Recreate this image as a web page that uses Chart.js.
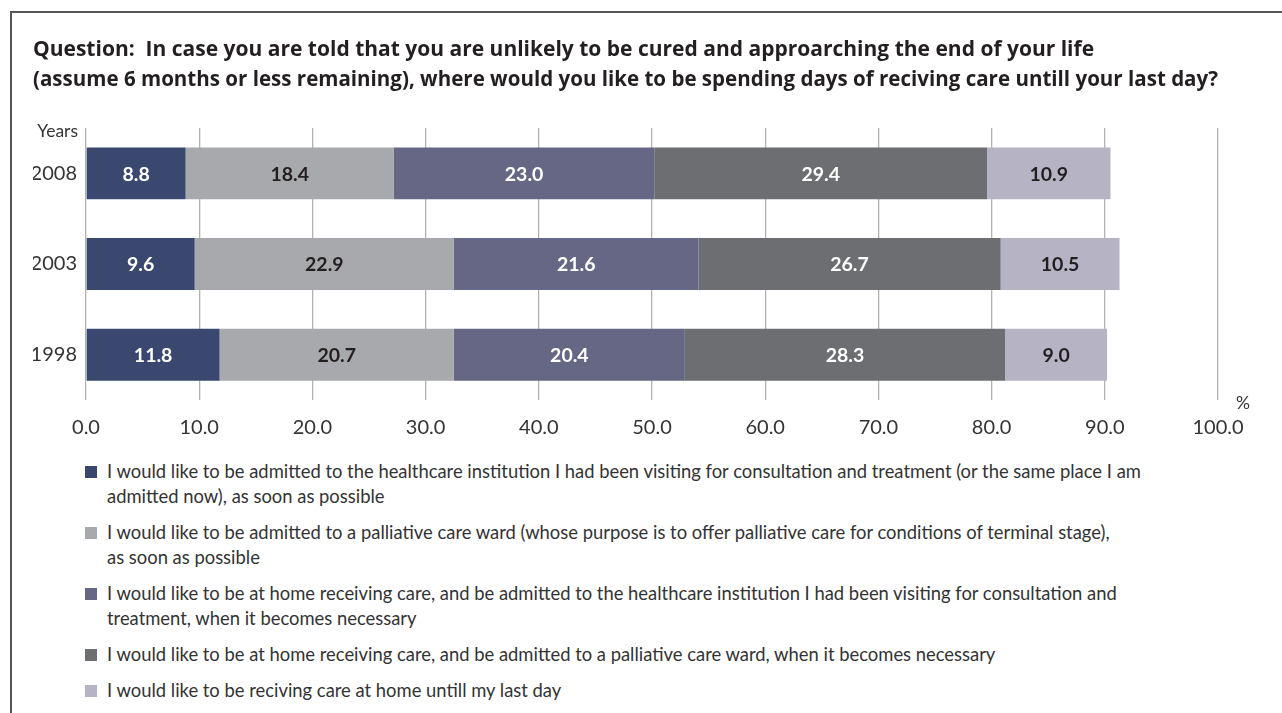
<!DOCTYPE html>
<html>
<head>
<meta charset="utf-8">
<title>Preferred place of care at the end of life</title>
<script src="https://cdn.jsdelivr.net/npm/chart.js@4/dist/chart.umd.min.js"></script>
<style>
  html, body { margin: 0; padding: 0; background: #fff; }
  #wrap { position: relative; width: 1282px; height: 713px; overflow: hidden; font-family: Lato, "Open Sans", sans-serif; }
  #frame { position: absolute; left: 10px; top: 11px; right: -10px; bottom: -10px;
           border-left: 2px solid #555; border-top: 2px solid #555; }
  #chart { position: absolute; left: 0; top: 0; }
  #legend { position: absolute; left: 85px; top: 459px; margin: 0; padding: 0; list-style: none;
            font-size: 18.4px; line-height: 25px; color: #333; }
  #legend li { position: relative; padding-left: 22px; margin-bottom: 11px; white-space: nowrap; }
  #legend .sw { position: absolute; left: 0; top: 7px; width: 12px; height: 12px; }
</style>
</head>
<body>
<div id="wrap">
  <div id="frame"></div>
  <canvas id="chart" width="1282" height="450"></canvas>
  <ul id="legend"></ul>
</div>
<script>
// Survey years, top to bottom
const years = ['2008', '2003', '1998'];

// Answer options (legend text, one entry per printed line)
const answerLines = [
  ['I would like to be admitted to the healthcare institution I had been visiting for consultation and treatment (or the same place I am',
   'admitted now), as soon as possible'],
  ['I would like to be admitted to a palliative care ward (whose purpose is to offer palliative care for conditions of terminal stage),',
   'as soon as possible'],
  ['I would like to be at home receiving care, and be admitted to the healthcare institution I had been visiting for consultation and',
   'treatment, when it becomes necessary'],
  ['I would like to be at home receiving care, and be admitted to a palliative care ward, when it becomes necessary'],
  ['I would like to be reciving care at home untill my last day']
];

// Share of respondents (%), per answer, in the order of `years`
const institutionSoon = [8.8, 9.6, 11.8];
const palliativeSoon  = [18.4, 22.9, 20.7];
const homeThenInstitution = [23.0, 21.6, 20.4];
const homeThenPalliative  = [29.4, 26.7, 28.3];
const homeUntilEnd        = [10.9, 10.5, 9.0];

// Percentage axis ticks
const xTicks = [0, 10, 20, 30, 40, 50, 60, 70, 80, 90, 100];

const titleLines = [
  'Question:  In case you are told that you are unlikely to be cured and approarching the end of your life',
  '(assume 6 months or less remaining), where would you like to be spending days of reciving care untill your last day?'
];

const seriesValues = [institutionSoon, palliativeSoon, homeThenInstitution, homeThenPalliative, homeUntilEnd];
const seriesColors = ['#3a4870', '#a8a9ac', '#666685', '#6d6e71', '#b6b4c4'];
const labelColors  = ['#ffffff', '#231f20', '#ffffff', '#ffffff', '#231f20'];

const FONT = 'Lato, "Open Sans", sans-serif';
const TITLE_FONT = '"Open Sans", Lato, sans-serif';

// Value labels centred inside each segment
const segmentLabels = {
  id: 'segmentLabels',
  afterDatasetsDraw(chart) {
    const ctx = chart.ctx;
    ctx.save();
    ctx.font = 'bold 19.5px ' + FONT;
    ctx.textAlign = 'center';
    ctx.textBaseline = 'middle';
    chart.data.datasets.forEach((ds, i) => {
      chart.getDatasetMeta(i).data.forEach((bar, j) => {
        const p = bar.getProps(['x', 'base', 'y'], true);
        ctx.fillStyle = labelColors[i];
        ctx.fillText(ds.data[j].toFixed(1), (p.x + p.base) / 2, p.y + 1);
      });
    });
    ctx.restore();
  }
};

// Axis captions: "Years" above the category labels, "%" after the last tick
const axisCaptions = {
  id: 'axisCaptions',
  afterDraw(chart) {
    const { ctx, chartArea } = chart;
    ctx.save();
    ctx.font = '17.5px ' + FONT;
    ctx.fillStyle = '#333';
    ctx.textBaseline = 'middle';
    ctx.textAlign = 'right';
    ctx.fillText('Years', chartArea.left - 8, chartArea.top + 3);
    ctx.textAlign = 'center';
    ctx.fillText('%', chartArea.right + 25, chartArea.bottom + 3);
    ctx.restore();
  }
};

const chart = new Chart(document.getElementById('chart'), {
  type: 'bar',
  data: {
    labels: years,
    datasets: seriesValues.map((vals, i) => ({
      label: answerLines[i].join(' '),
      data: vals,
      backgroundColor: seriesColors[i],
      borderWidth: 0,
      barPercentage: 0.573,
      categoryPercentage: 1
    }))
  },
  options: {
    indexAxis: 'y',
    responsive: false,
    animation: false,
    layout: { padding: { left: 33, right: 64, top: 0, bottom: 0 } },
    plugins: {
      legend: { display: false },
      tooltip: { enabled: false },
      title: {
        display: true,
        text: titleLines,
        align: 'start',
        color: '#231f20',
        font: { family: TITLE_FONT, size: 21, weight: 'bold', lineHeight: 1.43 },
        padding: { top: 35, bottom: 33 }
      }
    },
    scales: {
      x: {
        stacked: true,
        min: 0,
        max: 100,
        afterBuildTicks(scale) { scale.ticks = xTicks.map(v => ({ value: v })); },
        afterFit(scale) { scale.height = 50; },
        border: { display: false },
        grid: { color: '#b3b3b3', lineWidth: 1.3, drawTicks: false },
        ticks: {
          padding: 16,
          color: '#333',
          font: { family: FONT, size: 20 },
          callback: v => Number(v).toFixed(1)
        }
      },
      y: {
        stacked: true,
        afterFit(scale) { scale.width = 53; },
        border: { display: false },
        grid: { display: false, drawTicks: false },
        ticks: {
          padding: 9,
          color: '#333',
          font: { family: FONT, size: 20 }
        }
      }
    }
  },
  plugins: [segmentLabels, axisCaptions]
});

// Legend built from the chart's own datasets
const legendEl = document.getElementById('legend');
chart.data.datasets.forEach((ds, i) => {
  const li = document.createElement('li');
  const sw = document.createElement('span');
  sw.className = 'sw';
  sw.style.background = ds.backgroundColor;
  li.appendChild(sw);
  answerLines[i].forEach(line => {
    const d = document.createElement('div');
    d.textContent = line;
    li.appendChild(d);
  });
  legendEl.appendChild(li);
});
</script>
</body>
</html>
